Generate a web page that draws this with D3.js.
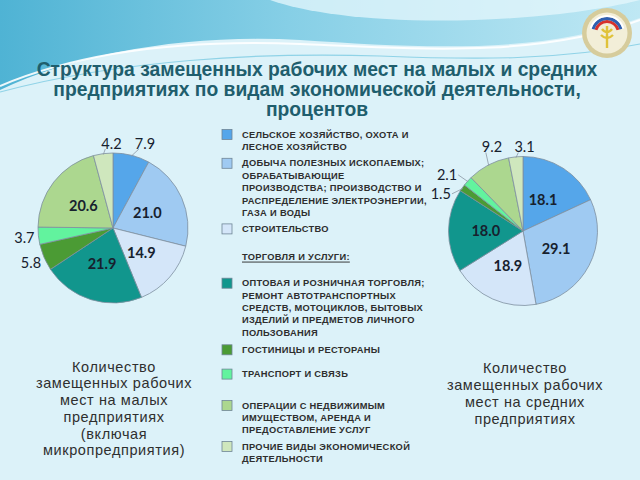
<!DOCTYPE html>
<html><head><meta charset="utf-8">
<script src="https://cdn.jsdelivr.net/npm/d3@7"></script>
<style>body{margin:0;background:#dcf2f9}svg{display:block}</style>
</head><body>
<script>
// ---- data ----
const categories = [
  "СЕЛЬСКОЕ ХОЗЯЙСТВО, ОХОТА И\nЛЕСНОЕ ХОЗЯЙСТВО",
  "ДОБЫЧА ПОЛЕЗНЫХ ИСКОПАЕМЫХ;\nОБРАБАТЫВАЮЩИЕ\nПРОИЗВОДСТВА; ПРОИЗВОДСТВО И\nРАСПРЕДЕЛЕНИЕ ЭЛЕКТРОЭНЕРГИИ,\nГАЗА И ВОДЫ",
  "СТРОИТЕЛЬСТВО",
  "ОПТОВАЯ И РОЗНИЧНАЯ ТОРГОВЛЯ;\nРЕМОНТ АВТОТРАНСПОРТНЫХ\nСРЕДСТВ, МОТОЦИКЛОВ, БЫТОВЫХ\nИЗДЕЛИЙ И ПРЕДМЕТОВ ЛИЧНОГО\nПОЛЬЗОВАНИЯ",
  "ГОСТИНИЦЫ И РЕСТОРАНЫ",
  "ТРАНСПОРТ И СВЯЗЬ",
  "ОПЕРАЦИИ С НЕДВИЖИМЫМ\nИМУЩЕСТВОМ, АРЕНДА И\nПРЕДОСТАВЛЕНИЕ УСЛУГ",
  "ПРОЧИЕ ВИДЫ ЭКОНОМИЧЕСКОЙ\nДЕЯТЕЛЬНОСТИ"
];
const legendHeader = "ТОРГОВЛЯ И УСЛУГИ:";
const smallValues  = [7.9, 21.0, 14.9, 21.9, 5.8, 3.7, 20.6, 4.2];
const mediumValues = [18.1, 29.1, 18.9, 18.0, 1.5, 2.1, 9.2, 3.1];
const titleLines = [
  "Структура замещенных рабочих мест на малых и средних",
  "предприятиях по видам экономической деятельности,",
  "процентов"
];
const smallCaption  = ["Количество", "замещенных рабочих", "мест на малых", "предприятиях", "(включая", "микропредприятия)"];
const mediumCaption = ["Количество", "замещенных рабочих", "мест на средних", "предприятиях"];

// ---- style ----
const colors = ["#55a6ea", "#9fcaf2", "#d4e6f9", "#11968d", "#4b9b34", "#62f39e", "#acd78f", "#cfe7bd"];
const W = 640, H = 480;
const svg = d3.select("body").append("svg").attr("width", W).attr("height", H);
const defs = svg.append("defs");

// background + decorative waves
svg.append("rect").attr("width", W).attr("height", H).attr("fill", "#dcf2f9");
const g1 = defs.append("linearGradient").attr("id", "topg").attr("x1", 0).attr("x2", 1).attr("y1", 0).attr("y2", 0);
g1.append("stop").attr("offset", 0).attr("stop-color", "#4fb3d4");
g1.append("stop").attr("offset", 0.45).attr("stop-color", "#86cfe6");
g1.append("stop").attr("offset", 1).attr("stop-color", "#bfe8f4");
svg.append("path").attr("d", "M0,0 H640 V18 C540,55 420,48 300,40 C190,34 80,52 0,90 Z").attr("fill", "url(#topg)");
svg.append("path").attr("d", "M270,0 C320,18 430,28 560,14 C600,9 625,4 640,0 Z").attr("fill", "#e6f7fc").attr("opacity", 0.75);
svg.append("path").attr("d", "M0,86 C90,48 200,40 300,44 C420,49 540,58 640,20").attr("fill", "none").attr("stroke", "#ffffff").attr("stroke-width", 2).attr("opacity", 0.9);
svg.append("path").attr("d", "M0,92 C120,60 260,52 380,56 C480,60 560,60 640,44").attr("fill", "none").attr("stroke", "#7ccbe2").attr("stroke-width", 1.2).attr("opacity", 0.8);

// emblem
const em = svg.append("g").attr("transform", "translate(607,33)");
em.append("circle").attr("r", 25).attr("fill", "#d6cc9c");
em.append("circle").attr("r", 20.5).attr("fill", "#f2eed8");
em.append("path").attr("d", d3.arc()({innerRadius: 10, outerRadius: 13, startAngle: -1.3, endAngle: 1.3})).attr("fill", "#d7322d");
em.append("path").attr("d", d3.arc()({innerRadius: 13, outerRadius: 16, startAngle: -1.3, endAngle: 1.3})).attr("fill", "#2f5fb0");
em.append("path").attr("d", d3.arc()({innerRadius: 16, outerRadius: 18, startAngle: -1.3, endAngle: 1.3})).attr("fill", "#ffffff");
em.append("path").attr("d", "M0,-7 V15 M-5,-4 C-2,0 2,0 5,-4 M-6,2 C-2,6 2,6 6,2").attr("stroke", "#e0c23a").attr("stroke-width", 2.4).attr("fill", "none");

// title
svg.append("g").selectAll("text").data(titleLines).join("text")
  .attr("x", 317).attr("y", (d, i) => 69.5 + i * 20)
  .attr("text-anchor", "middle").attr("dominant-baseline", "central")
  .attr("font-family", "Liberation Sans, Arial, sans-serif").attr("font-weight", "bold")
  .attr("font-size", 19.3).attr("fill", "#1f5e6d").text(d => d);

// pies
function drawPie(values, cx, cy, R) {
  const pie = d3.pie().sort(null).value(d => d);
  const arcs = pie(values);
  const arc = d3.arc().innerRadius(0).outerRadius(R);
  const inner = d3.arc().innerRadius(R * 0.5).outerRadius(R * 0.5);
  const g = svg.append("g").attr("transform", `translate(${cx},${cy})`);
  g.selectAll("path").data(arcs).join("path")
    .attr("d", arc).attr("fill", (d, i) => colors[i])
    .attr("stroke", "#7d8fa0").attr("stroke-width", 0.8);

  const fmt = d3.format(".1f");
  const insideArcs = arcs.filter(d => d.data >= 10);
  g.selectAll("text.in").data(insideArcs).join("text").attr("class", "in")
    .attr("transform", d => `translate(${inner.centroid(d)})`)
    .attr("text-anchor", "middle").attr("dominant-baseline", "central")
    .attr("font-family", "Lato, sans-serif").attr("font-weight", "bold")
    .attr("font-size", 14.5).attr("fill", "#17212e").text(d => fmt(d.data));

  // outside labels
  const Rl = R + 14;
  const outs = arcs.filter(d => d.data < 10).map(d => {
    const a = (d.startAngle + d.endAngle) / 2;
    const s = Math.sin(a), c = Math.cos(a);
    let x = Rl * s, y = -Rl * c, anchor;
    const top = c > 0.86;
    if (top) { anchor = "start"; y = -R - 10; }
    else if (s < 0) { anchor = "end"; x += 10; }
    else { anchor = "start"; x -= 10; }
    if (!top && d.data < 3) { x -= 10; y += 3; }
    return {d, a, x, y, anchor, top};
  });
  // collision (side labels only)
  const side = outs.filter(o => !o.top).sort((p, q) => p.y - q.y);
  for (let i = 1; i < side.length; i++) {
    if (side[i].y - side[i - 1].y < 19 && Math.abs(side[i].x - side[i - 1].x) < 30) side[i].y = side[i - 1].y + 19;
  }
  g.selectAll("line.lead").data(outs.filter(o => o.d.data < 3 || o.top)).join("line").attr("class", "lead")
    .attr("x1", o => (R - 1) * Math.sin(o.a)).attr("y1", o => -(R - 1) * Math.cos(o.a))
    .attr("x2", o => o.top ? o.x + 4 : o.x + 1).attr("y2", o => o.top ? o.y + 6 : o.y)
    .attr("stroke", "#8a97a3").attr("stroke-width", 0.8);
  g.selectAll("text.out").data(outs).join("text").attr("class", "out")
    .attr("x", o => o.x).attr("y", o => o.y)
    .attr("text-anchor", o => o.anchor).attr("dominant-baseline", "central")
    .attr("font-family", "Lato, sans-serif")
    .attr("font-size", 14.5).attr("fill", "#17212e").text(o => fmt(o.d.data));
}
drawPie(smallValues, 113, 228, 75);
drawPie(mediumValues, 523, 231, 74.5);

// legend
const leg = svg.append("g");
const lineH = 12.4;
const gapAfter = [16.4, 16, 54.3, 17, 24.3, 31.4, 16.2];
const legFont = {family: "Liberation Sans, Arial, sans-serif", size: 9.3, ls: 0.3};
let y = 134.5;
categories.forEach((cat, i) => {
  const lines = cat.split("\n");
  leg.append("rect").attr("x", 222).attr("y", y - 5).attr("width", 10).attr("height", 10)
    .attr("fill", colors[i]).attr("stroke", "#6f8596").attr("stroke-width", 0.8);
  const t = leg.append("text").attr("font-family", legFont.family)
    .attr("font-weight", "bold").attr("font-size", legFont.size).attr("letter-spacing", legFont.ls).attr("fill", "#2e2e2e");
  lines.forEach((l, j) => t.append("tspan").attr("x", 242).attr("y", y + j * lineH).attr("dominant-baseline", "central").text(l));
  if (i === 2) {
    leg.append("text").attr("x", 242).attr("y", y + (lines.length - 1) * lineH + 27.7)
      .attr("dominant-baseline", "central").attr("font-family", legFont.family)
      .attr("font-weight", "bold").attr("font-size", legFont.size).attr("letter-spacing", legFont.ls)
      .attr("text-decoration", "underline").attr("fill", "#2e2e2e").text(legendHeader);
  }
  if (i < gapAfter.length) y += (lines.length - 1) * lineH + gapAfter[i];
});

// captions
function caption(lines, cx, y0, dy) {
  svg.append("g").selectAll("text").data(lines).join("text")
    .attr("x", cx).attr("y", (d, i) => y0 + i * dy)
    .attr("text-anchor", "middle").attr("dominant-baseline", "central")
    .attr("font-family", "Liberation Sans, Arial, sans-serif")
    .attr("font-size", 14.5).attr("letter-spacing", 0.6).attr("fill", "#2f2f2f").text(d => d);
}
caption(smallCaption, 114, 366.7, 16.7);
caption(mediumCaption, 525, 368.3, 17);
</script>
</body></html>
